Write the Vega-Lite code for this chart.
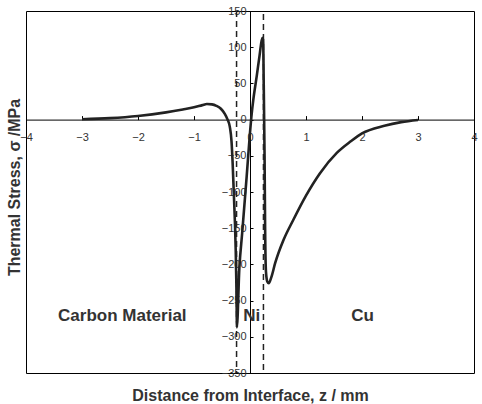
{
  "$schema": "https://vega.github.io/schema/vega-lite/v6.json",
  "width": 448,
  "height": 362,
  "autosize": {"type": "none"},
  "padding": {"left": 26, "top": 11, "right": 8, "bottom": 31},
  "config": {
    "font": "Liberation Sans",
    "view": {"stroke": "#000000", "strokeWidth": 1},
    "axis": {"grid": false}
  },
  "data": {"values": [
    {"k": "curve", "i": 1, "z": -3.0, "s": 0.5},
    {"k": "curve", "i": 2, "z": -2.5, "s": 2},
    {"k": "curve", "i": 3, "z": -2.0, "s": 5},
    {"k": "curve", "i": 4, "z": -1.5, "s": 10},
    {"k": "curve", "i": 5, "z": -1.2, "s": 14},
    {"k": "curve", "i": 6, "z": -1.0, "s": 17},
    {"k": "curve", "i": 7, "z": -0.85, "s": 20},
    {"k": "curve", "i": 8, "z": -0.77, "s": 21.5},
    {"k": "curve", "i": 9, "z": -0.68, "s": 21},
    {"k": "curve", "i": 10, "z": -0.6, "s": 19},
    {"k": "curve", "i": 11, "z": -0.52, "s": 15},
    {"k": "curve", "i": 12, "z": -0.45, "s": 8},
    {"k": "curve", "i": 13, "z": -0.4, "s": 0},
    {"k": "curve", "i": 14, "z": -0.36, "s": -10},
    {"k": "curve", "i": 15, "z": -0.33, "s": -30},
    {"k": "curve", "i": 16, "z": -0.31, "s": -60},
    {"k": "curve", "i": 17, "z": -0.29, "s": -100},
    {"k": "curve", "i": 18, "z": -0.27, "s": -140},
    {"k": "curve", "i": 19, "z": -0.255, "s": -180},
    {"k": "curve", "i": 20, "z": -0.245, "s": -220},
    {"k": "curve", "i": 21, "z": -0.238, "s": -260},
    {"k": "curve", "i": 22, "z": -0.235, "s": -287},
    {"k": "curve", "i": 23, "z": -0.19, "s": -205},
    {"k": "curve", "i": 24, "z": -0.14, "s": -157},
    {"k": "curve", "i": 25, "z": -0.06, "s": -79},
    {"k": "curve", "i": 26, "z": 0.0, "s": -18},
    {"k": "curve", "i": 27, "z": 0.03, "s": 8},
    {"k": "curve", "i": 28, "z": 0.06, "s": 28},
    {"k": "curve", "i": 29, "z": 0.12, "s": 60},
    {"k": "curve", "i": 30, "z": 0.17, "s": 88},
    {"k": "curve", "i": 31, "z": 0.22, "s": 113},
    {"k": "curve", "i": 32, "z": 0.235, "s": 110},
    {"k": "curve", "i": 33, "z": 0.245, "s": 50},
    {"k": "curve", "i": 34, "z": 0.26, "s": -50},
    {"k": "curve", "i": 35, "z": 0.27, "s": -150},
    {"k": "curve", "i": 36, "z": 0.285, "s": -210},
    {"k": "curve", "i": 37, "z": 0.31, "s": -224},
    {"k": "curve", "i": 38, "z": 0.335, "s": -226},
    {"k": "curve", "i": 39, "z": 0.38, "s": -218},
    {"k": "curve", "i": 40, "z": 0.45, "s": -198},
    {"k": "curve", "i": 41, "z": 0.6, "s": -166},
    {"k": "curve", "i": 42, "z": 0.77, "s": -139},
    {"k": "curve", "i": 43, "z": 1.0, "s": -105},
    {"k": "curve", "i": 44, "z": 1.25, "s": -74},
    {"k": "curve", "i": 45, "z": 1.55, "s": -46},
    {"k": "curve", "i": 46, "z": 1.8, "s": -30},
    {"k": "curve", "i": 47, "z": 2.0, "s": -19},
    {"k": "curve", "i": 48, "z": 2.4, "s": -8.5},
    {"k": "curve", "i": 49, "z": 2.7, "s": -3.5},
    {"k": "curve", "i": 50, "z": 3.0, "s": -0.5},
    {"k": "dash", "z": -0.24, "s": 150, "s2": -350},
    {"k": "dash", "z": 0.24, "s": 146, "s2": -350},
    {"k": "label", "z": -2.28, "s": -271, "label": "Carbon Material"},
    {"k": "label", "z": 0.03, "s": -271, "label": "Ni"},
    {"k": "label", "z": 2.01, "s": -271, "label": "Cu"}
  ]},
  "encoding": {
    "x": {
      "field": "z", "type": "quantitative",
      "title": "Distance from Interface, z / mm",
      "scale": {"domain": [-4, 4], "nice": false, "zero": false},
      "axis": {
        "orient": "bottom", "offset": -253.4,
        "values": [-4, -3, -2, -1, 0, 1, 2, 3, 4], "format": "d",
        "labelExpr": "replace(datum.label, '-', '−')",
        "tickSize": -4, "tickColor": "#000000", "labelPadding": 16,
        "domainColor": "#000000", "domainWidth": 1,
        "labelFlush": false, "labelOverlap": false,
        "labelFontSize": 11, "labelColor": "#333333",
        "titleFontSize": 16, "titleFontWeight": "bold", "titleColor": "#333333",
        "titleX": 224, "titleY": 275.4, "titleBaseline": "middle", "titleAlign": "center"
      }
    },
    "y": {
      "field": "s", "type": "quantitative",
      "title": "Thermal Stress, σ /MPa",
      "scale": {"domain": [-350, 150], "nice": false, "zero": false},
      "axis": {
        "orient": "left", "offset": -224,
        "values": [-350, -300, -250, -200, -150, -100, -50, 0, 50, 100, 150], "format": "d",
        "labelExpr": "replace(datum.label, '-', '−')",
        "tickSize": -3, "tickColor": "#000000", "labelPadding": 7,
        "domainColor": "#000000", "domainWidth": 1,
        "labelFlush": false, "labelOverlap": false,
        "labelFontSize": 11, "labelColor": "#333333",
        "titleFontSize": 16, "titleFontWeight": "bold", "titleColor": "#333333",
        "titleX": -236, "titleY": 176, "titleBaseline": "middle", "titleAlign": "center", "titleAngle": -90
      }
    }
  },
  "layer": [
    {
      "transform": [{"filter": "datum.k === 'curve'"}],
      "mark": {"type": "line", "color": "#222222", "strokeWidth": 2.6, "interpolate": "monotone"},
      "encoding": {
        "order": {"field": "i", "type": "quantitative"}
      }
    },
    {
      "transform": [{"filter": "datum.k === 'dash'"}],
      "mark": {"type": "rule", "color": "#222222", "strokeWidth": 1.5, "strokeDash": [6, 4]},
      "encoding": {
        "y2": {"field": "s2"}
      }
    },
    {
      "transform": [{"filter": "datum.k === 'label'"}],
      "mark": {"type": "text", "fontSize": 17, "fontWeight": "bold", "color": "#333333", "align": "center", "baseline": "middle"},
      "encoding": {
        "text": {"field": "label", "type": "nominal"}
      }
    }
  ]
}
